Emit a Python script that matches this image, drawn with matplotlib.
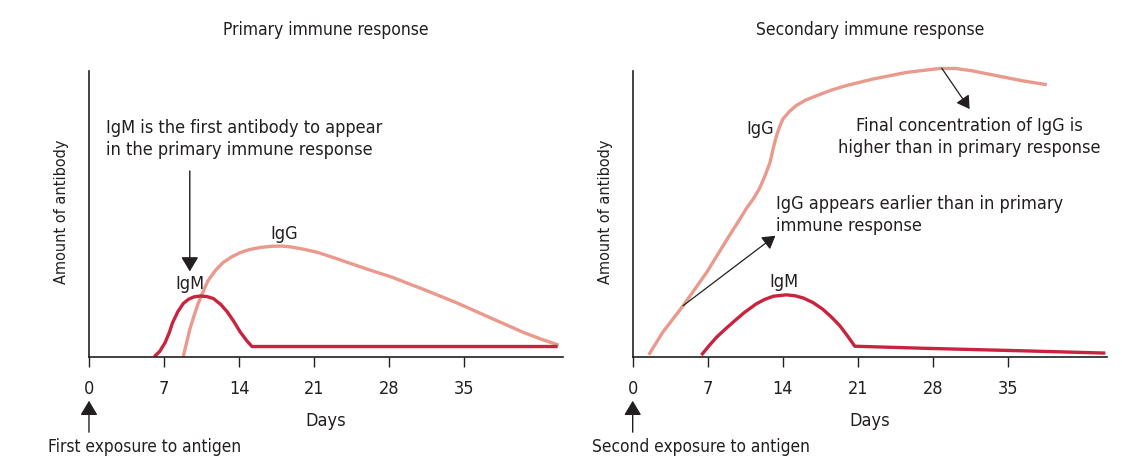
import matplotlib

matplotlib.use("Agg")
import matplotlib.pyplot as plt

plt.rcParams["font.family"] = ["DejaVu Sans"]
plt.rcParams["font.stretch"] = "condensed"

# days after exposure / amount of antibody (arbitrary units, axis top = 100)
primary_igm_days = [6.1, 6.6, 7.1, 7.5, 7.8, 8.3, 8.8, 9.3, 9.8, 10.4, 11.0, 11.6,
                    12.3, 12.9, 13.5, 14.1, 14.7, 15.2, 43.7]
primary_igm_level = [0.0, 1.8, 4.9, 8.5, 11.9, 15.8, 18.6, 20.1, 20.9, 21.2, 21.0, 20.3,
                     18.2, 15.6, 12.3, 8.6, 5.6, 3.5, 3.5]

primary_igg_days = [8.8, 9.1, 9.4, 9.8, 10.2, 10.7, 11.1, 11.8, 12.5, 13.3, 14.1, 15.0,
                    16.0, 17.0, 17.9, 18.8, 20.0, 21.3, 23.0, 25.0, 26.5, 28.1, 31.2,
                    34.3, 37.4, 40.6, 42.3, 43.8]
primary_igg_level = [0.1, 4.8, 9.5, 14.3, 18.8, 23.2, 26.6, 30.2, 32.9, 34.9, 36.4, 37.5,
                     38.2, 38.6, 38.7, 38.4, 37.6, 36.5, 34.4, 31.8, 29.9, 28.0, 23.5,
                     18.8, 13.6, 8.3, 5.9, 4.0]

secondary_igm_days = [6.4, 7.1, 7.8, 8.6, 9.35, 10.4, 11.5, 12.3, 13.1, 14.3, 15.1, 15.9,
                      16.8, 17.7, 18.5, 19.3, 20.0, 20.7, 27.0, 36.3, 44.05]
secondary_igm_level = [0.5, 3.7, 6.7, 9.5, 12.0, 15.4, 18.4, 20.0, 21.1, 21.6, 21.3, 20.5,
                       18.9, 16.6, 13.9, 10.8, 7.3, 3.6, 2.9, 2.0, 1.2]

secondary_igg_days = [1.5, 2.8, 4.7, 6.9, 9.0, 10.1, 10.6, 11.2, 11.8, 12.3, 12.8, 13.1,
                      13.4, 13.7, 14.0, 14.6, 15.2, 16.1, 17.1, 18.5, 19.9, 22.4, 25.5,
                      28.6, 30.1, 31.6, 33.2, 36.3, 38.6]
secondary_igg_level = [0.6, 8.5, 17.8, 29.5, 42.3, 48.8, 51.9, 55.0, 58.7, 63.0, 68.0, 73.0,
                       77.3, 80.6, 83.2, 85.8, 87.8, 89.8, 91.3, 93.3, 94.9, 97.2, 99.5,
                       100.9, 100.9, 100.1, 98.9, 96.6, 95.2]

day_ticks = [0, 7, 14, 21, 28, 35]

IGM_COLOR = "#c8243f"
IGG_COLOR = "#e99a8c"
TEXT_COLOR = "#231f20"
FS = 13
ARROW = "-|>,head_length=0.55,head_width=0.33"

fig = plt.figure(figsize=(11.22, 4.77), dpi=100)
ax1 = fig.add_axes([0.0793, 0.2505, 0.4225, 0.5985])
ax2 = fig.add_axes([0.5639, 0.2505, 0.4227, 0.5985])


def style_axes(ax, title, exposure):
    ax.set_xlim(0, 44.2)
    ax.set_ylim(0, 100)
    for side in ("top", "right"):
        ax.spines[side].set_visible(False)
    for side in ("left", "bottom"):
        ax.spines[side].set_linewidth(1.2)
        ax.spines[side].set_color(TEXT_COLOR)
    ax.set_yticks([])
    ax.set_xticks(day_ticks)
    ax.tick_params(axis="x", direction="out", length=7.5, width=1.0,
                   pad=9, labelsize=13, colors=TEXT_COLOR)
    ax.text(0.5, 1.147, title, transform=ax.transAxes, ha="center", va="center",
            fontsize=FS - 0.5, color=TEXT_COLOR)
    ax.text(0.5, -0.221, "Days", transform=ax.transAxes, ha="center", va="center",
            fontsize=FS, color=TEXT_COLOR)
    ax.text(-0.057, 0.51, "Amount of antibody", transform=ax.transAxes, rotation=90,
            ha="center", va="center", fontsize=11.6, color=TEXT_COLOR)
    ax.annotate("", xy=(0, -0.155), xycoords=("data", "axes fraction"),
                xytext=(0, -0.265), textcoords=("data", "axes fraction"),
                arrowprops=dict(arrowstyle=ARROW, mutation_scale=16, lw=1.0,
                                color=TEXT_COLOR, shrinkA=0, shrinkB=0),
                annotation_clip=False)
    ax.text(-0.086, -0.313, exposure, transform=ax.transAxes, ha="left", va="center",
            fontsize=12.4, color=TEXT_COLOR)


style_axes(ax1, "Primary immune response", "First exposure to antigen")
style_axes(ax2, "Secondary immune response", "Second exposure to antigen")

for ax, days, level, color in [
    (ax1, primary_igg_days, primary_igg_level, IGG_COLOR),
    (ax1, primary_igm_days, primary_igm_level, IGM_COLOR),
    (ax2, secondary_igg_days, secondary_igg_level, IGG_COLOR),
    (ax2, secondary_igm_days, secondary_igm_level, IGM_COLOR),
]:
    ax.plot(days, level, color=color, lw=2.4, solid_capstyle="butt",
            solid_joinstyle="round", clip_on=False)

# primary panel labels
ax1.text(9.4, 25.6, "IgM", ha="center", va="center", fontsize=FS, color=TEXT_COLOR)
ax1.text(18.2, 43.2, "IgG", ha="center", va="center", fontsize=FS, color=TEXT_COLOR)
ax1.text(1.6, 76.5, "IgM is the first antibody to appear\nin the primary immune response",
         ha="left", va="center", fontsize=FS, color=TEXT_COLOR, linespacing=1.3)
ax1.annotate("", xy=(9.4, 29.8), xytext=(9.4, 65.0),
             arrowprops=dict(arrowstyle=ARROW, mutation_scale=16, lw=1.0,
                             color=TEXT_COLOR, shrinkA=0, shrinkB=0))

# secondary panel labels
ax2.text(11.9, 80.2, "IgG", ha="center", va="center", fontsize=FS, color=TEXT_COLOR)
ax2.text(14.1, 26.6, "IgM", ha="center", va="center", fontsize=FS, color=TEXT_COLOR)
ax2.text(31.4, 77.3, "Final concentration of IgG is\nhigher than in primary response",
         ha="center", va="center", fontsize=FS, color=TEXT_COLOR, linespacing=1.3)
ax2.annotate("", xy=(31.4, 86.7), xytext=(28.8, 101.0),
             arrowprops=dict(arrowstyle=ARROW, mutation_scale=14, lw=0.9,
                             color=TEXT_COLOR, shrinkA=0, shrinkB=0),
             annotation_clip=False)
ax2.text(13.4, 49.8, "IgG appears earlier than in primary\nimmune response",
         ha="left", va="center", fontsize=FS, color=TEXT_COLOR, linespacing=1.3)
ax2.annotate("", xy=(13.3, 42.3), xytext=(4.7, 17.8),
             arrowprops=dict(arrowstyle=ARROW, mutation_scale=14, lw=0.9,
                             color=TEXT_COLOR, shrinkA=0, shrinkB=0))

fig.savefig("out.png", dpi=100)
